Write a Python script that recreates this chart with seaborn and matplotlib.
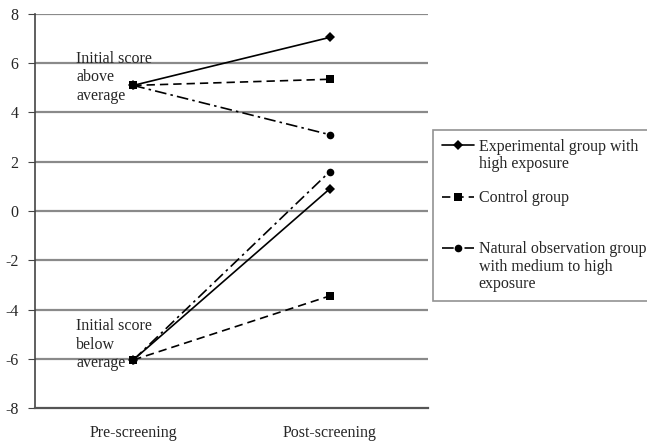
import pandas as pd
import matplotlib
matplotlib.use('Agg')
import matplotlib.pyplot as plt
from matplotlib.lines import Line2D
import seaborn as sns

times = ['Pre-screening', 'Post-screening']
groups = ['Experimental group with high exposure',
          'Control group',
          'Natural observation group with medium to high exposure']
# legend text as wrapped in the picture, one list per group
legend_lines = [['Experimental group with', 'high exposure'],
                ['Control group'],
                ['Natural observation group', 'with medium to high', 'exposure']]

# values: pre, post for each starting level
above_experimental = [5.1, 7.05]
above_control = [5.1, 5.35]
above_natural = [5.1, 3.1]
below_experimental = [-6.05, 0.9]
below_control = [-6.05, -3.45]
below_natural = [-6.05, 1.6]

rows = []
for level, vals in [('above', [above_experimental, above_control, above_natural]),
                    ('below', [below_experimental, below_control, below_natural])]:
    for g, v in zip(groups, vals):
        for t, y in zip(times, v):
            rows.append({'time': t, 'score': y, 'group': g, 'level': level})
df = pd.DataFrame(rows)

sns.set_style('white')
plt.rcParams['font.family'] = ['Liberation Serif', 'DejaVu Serif']
plt.rcParams['axes.unicode_minus'] = False

fig = plt.figure(figsize=(6.47, 4.43), dpi=100)
ax = fig.add_axes([35 / 647, 1 - 408 / 443, 393 / 647, 394 / 443])

markers = {groups[0]: 'D', groups[1]: 's', groups[2]: 'o'}
dashes = {groups[0]: '', groups[1]: (5, 3), groups[2]: (7, 2.5, 1.5, 2.5)}
palette = {g: 'black' for g in groups}

sns.lineplot(data=df, x='time', y='score', hue='group', style='group',
             units='level', estimator=None, sort=False,
             palette=palette, markers=markers, dashes=dashes,
             markersize=5.5, linewidth=1.2, markeredgewidth=0,
             hue_order=groups, style_order=groups, ax=ax)

# control squares sit on top at the shared start points
control_ends = {above_control[1], below_control[1]}
for line in ax.lines:
    yd = list(line.get_ydata())
    if len(yd) == 2 and yd[1] in control_ends:
        line.set_zorder(5)

ax.set_xlim(-0.5, 1.5)
ax.set_ylim(-8, 8)
ax.set_yticks(range(-8, 9, 2))
ax.set_xticks([-0.5, 0.5, 1.5])
ax.set_xticklabels([])
ax.set_xticks([0, 1], minor=True)
ax.set_xticklabels(times, minor=True, fontsize=11.5)
ax.tick_params(axis='x', which='minor', length=0, pad=12)
ax.tick_params(axis='x', which='major', length=5, width=0.8, color='#444444', direction='out')
ax.tick_params(axis='y', length=5, width=0.8, color='#444444', labelsize=11.5, pad=7, left=True)
ax.set_xlabel('')
ax.set_ylabel('')

for y in range(-6, 9, 2):
    ax.axhline(y, color='#8a8a8a', linewidth=1.6, zorder=0)

for s in ['top', 'right']:
    ax.spines[s].set_visible(False)
ax.spines['left'].set_color('#444444')
ax.spines['left'].set_linewidth(1.2)
ax.spines['bottom'].set_color('#555555')
ax.spines['bottom'].set_linewidth(1.6)

ax.text(-0.29, 6.5, 'Initial score\nabove\naverage', fontsize=11.5, va='top', ha='left', linespacing=1.2)
ax.text(-0.29, -4.35, 'Initial score\nbelow\naverage', fontsize=11.5, va='top', ha='left', linespacing=1.2)

# legend: handle beside the first line of each entry, blank rows between entries
handles, _ = ax.get_legend_handles_labels()
blank = Line2D([], [], linestyle='none')
gaps = [1, 2, 0]
leg_handles, leg_labels = [], []
for h, lines, gap in zip(handles, legend_lines, gaps):
    leg_handles.append(h)
    leg_labels.append(lines[0])
    for extra in lines[1:]:
        leg_handles.append(blank)
        leg_labels.append(extra)
    for _ in range(gap):
        leg_handles.append(blank)
        leg_labels.append(' ')
leg = ax.legend(leg_handles, leg_labels, loc='upper left',
                bbox_to_anchor=(433 / 647, 1 - 130 / 443), bbox_transform=fig.transFigure,
                frameon=True, fancybox=False, fontsize=11.5, labelspacing=0.07,
                handlelength=2.0, handletextpad=0.3, borderpad=0.55, borderaxespad=0)
leg.get_frame().set_edgecolor('#777777')
leg.get_frame().set_linewidth(1.2)

fig.savefig('out.png', dpi=100)
